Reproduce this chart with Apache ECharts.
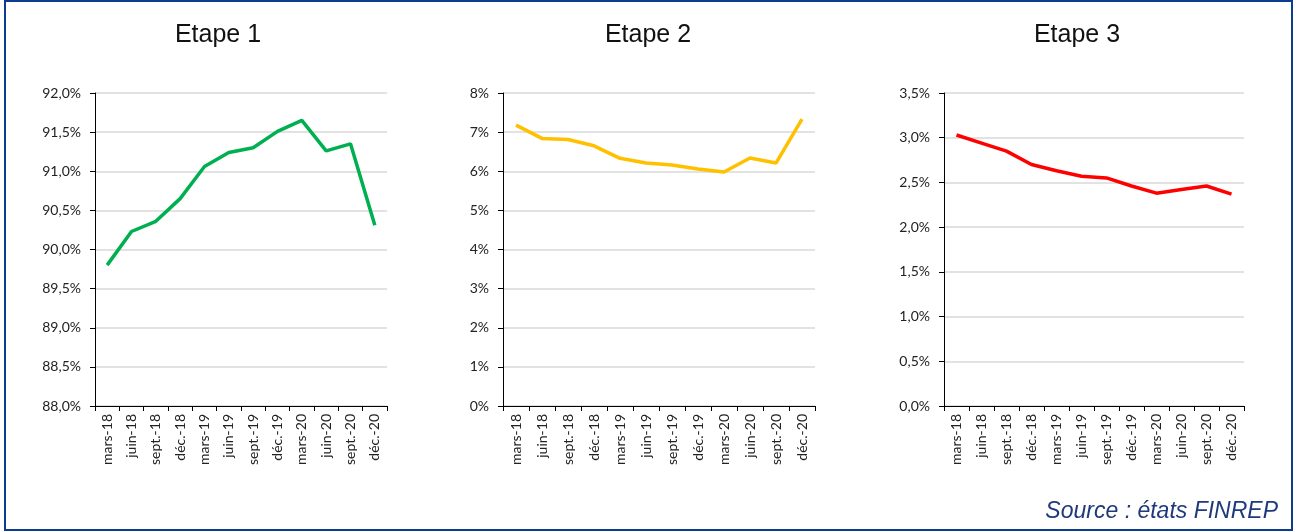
<!DOCTYPE html>
<html>
<head>
<meta charset="utf-8">
<script src="https://cdn.jsdelivr.net/npm/echarts@6/dist/echarts.min.js"></script>
<style>
  html, body { margin: 0; padding: 0; background: #fff; }
  #chart { width: 1298px; height: 532px; }
</style>
</head>
<body>
<div id="chart"></div>
<script>
// Quarterly periods shared by the three panels
const periods = ['mars-18', 'juin-18', 'sept.-18', 'déc.-18', 'mars-19', 'juin-19',
                 'sept.-19', 'déc.-19', 'mars-20', 'juin-20', 'sept.-20', 'déc.-20'];

// Share of exposures per stage (%)
const etape1 = [89.80, 90.23, 90.36, 90.65, 91.06, 91.24, 91.30, 91.51, 91.65, 91.26, 91.35, 90.31];
const etape2 = [7.18, 6.84, 6.81, 6.65, 6.33, 6.21, 6.16, 6.06, 5.98, 6.34, 6.21, 7.33];
const etape3 = [3.03, 2.94, 2.85, 2.70, 2.63, 2.57, 2.55, 2.46, 2.38, 2.42, 2.46, 2.37];

const titles = ['Etape 1', 'Etape 2', 'Etape 3'];
const sourceText = 'Source : états FINREP';

const labelFont = 'Lato, "Open Sans", sans-serif';
const fmt1 = v => v.toFixed(1).replace('.', ',') + '%';
const fmt0 = v => v.toFixed(0) + '%';

const panels = [
  { data: etape1, color: '#00B050', min: 88, max: 92, interval: 0.5, fmt: fmt1, left: 95, width: 292, title: 213 },
  { data: etape2, color: '#FFC000', min: 0, max: 8, interval: 1, fmt: fmt0, left: 503, width: 312, title: 643 },
  { data: etape3, color: '#FF0000', min: 0, max: 3.5, interval: 0.5, fmt: fmt1, left: 944, width: 300, title: 1072 }
];

const chart = echarts.init(document.getElementById('chart'), null, { renderer: 'canvas' });

chart.setOption({
  backgroundColor: '#fff',
  animation: false,
  title: panels.map((p, i) => ({
    text: titles[i],
    left: p.title,
    top: 18,
    textAlign: 'center',
    textStyle: { fontFamily: 'Liberation Sans, Arial, sans-serif', fontSize: 25, fontWeight: 'normal', color: '#111' }
  })),
  grid: panels.map(p => ({ left: p.left, top: 93, width: p.width, height: 313 })),
  xAxis: panels.map((p, i) => ({
    type: 'category',
    gridIndex: i,
    data: periods,
    boundaryGap: true,
    axisLine: { lineStyle: { color: '#000', width: 1 } },
    axisTick: { show: true, length: 5, lineStyle: { color: '#000' } },
    axisLabel: { rotate: 90, interval: 0, margin: 8, fontSize: 14, fontFamily: labelFont, color: '#222' },
    splitLine: { show: false }
  })),
  yAxis: panels.map((p, i) => ({
    type: 'value',
    gridIndex: i,
    min: p.min,
    max: p.max,
    interval: p.interval,
    axisLine: { show: true, lineStyle: { color: '#000', width: 1 } },
    axisTick: { show: true, length: 5, lineStyle: { color: '#000' } },
    axisLabel: { formatter: p.fmt, margin: 14, fontSize: 14, fontFamily: labelFont, color: '#222' },
    splitLine: { show: true, lineStyle: { color: '#D9D9D9', width: 1.5 } }
  })),
  series: panels.map((p, i) => ({
    type: 'line',
    xAxisIndex: i,
    yAxisIndex: i,
    data: p.data,
    symbol: 'none',
    lineStyle: { color: p.color, width: 3.5 },
    itemStyle: { color: p.color }
  })),
  graphic: [
    {
      type: 'rect',
      shape: { x: 5, y: 1, width: 1287, height: 529 },
      style: { fill: 'none', stroke: '#0B3C8F', lineWidth: 2 },
      silent: true
    },
    {
      type: 'text',
      right: 20,
      top: 500,
      style: {
        text: sourceText,
        font: 'italic 23px "Liberation Sans", Arial, sans-serif',
        fill: '#1F3A7A'
      }
    }
  ]
});
</script>
</body>
</html>
